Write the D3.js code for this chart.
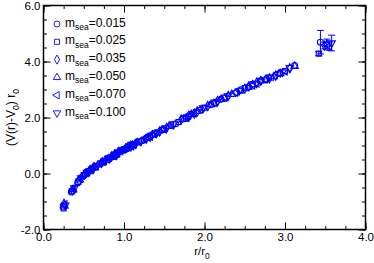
<!DOCTYPE html>
<html>
<head>
<meta charset="utf-8">
<script src="https://cdn.jsdelivr.net/npm/d3@7"></script>
<style>
  body { margin: 0; background: #fff; }
  svg { display: block; font-family: "Liberation Sans", Arial, Helvetica, sans-serif; }
</style>
</head>
<body>
<div class="main"></div>
<script>
// sea quark masses (legend)
let masses = ['0.015', '0.025', '0.035', '0.050', '0.070', '0.100']

// r/r0 and (V(r)-V0) r0 for each sea mass, e = error bar (0 = smaller than symbol)
let r015 = [0.245, 0.346, 0.424, 0.49, 0.548, 0.600, 0.693, 0.735, 0.813, 0.849, 0.883, 0.98, 1.01, 1.04, 1.096, 1.225, 1.273, 1.386, 1.47, 1.643, 1.732, 1.80, 1.96, 2.08, 2.205, 2.40, 2.45, 2.545, 2.695, 2.77, 2.94, 3.12, 3.44]
let v015 = [-1.20, -0.66, -0.33, -0.10, 0.07, 0.17, 0.33, 0.41, 0.52, 0.60, 0.68, 0.82, 0.85, 0.92, 1.01, 1.17, 1.26, 1.41, 1.55, 1.78, 1.95, 2.03, 2.28, 2.46, 2.65, 2.90, 2.99, 3.09, 3.31, 3.37, 3.58, 3.86, 4.69]
let e015 = [0, 0, 0, 0, 0, 0, 0, 0, 0, 0, 0, 0, 0, 0, 0, 0, 0, 0, 0, 0, 0, 0, 0, 0, 0, 0, 0, 0, 0, 0, 0, 0, 0.42]

let r025 = [0.25, 0.354, 0.433, 0.50, 0.559, 0.612, 0.707, 0.75, 0.829, 0.866, 0.901, 1.0, 1.031, 1.061, 1.118, 1.25, 1.299, 1.414, 1.50, 1.677, 1.768, 1.837, 2.0, 2.121, 2.25, 2.45, 2.5, 2.598, 2.75, 2.828, 3.0, 3.42]
let v025 = [-1.25, -0.63, -0.30, -0.06, 0.08, 0.20, 0.36, 0.43, 0.58, 0.64, 0.67, 0.87, 0.89, 0.95, 1.03, 1.21, 1.30, 1.47, 1.58, 1.84, 2.00, 2.12, 2.35, 2.53, 2.71, 2.96, 3.05, 3.19, 3.33, 3.42, 3.66, 4.28]
let e025 = [0, 0, 0, 0, 0, 0, 0, 0, 0, 0, 0, 0, 0, 0, 0, 0, 0, 0, 0, 0, 0, 0, 0, 0, 0, 0, 0, 0, 0, 0, 0, 0.07]

let r035 = [0.255, 0.361, 0.442, 0.51, 0.570, 0.625, 0.721, 0.765, 0.846, 0.883, 0.920, 1.02, 1.051, 1.082, 1.140, 1.275, 1.325, 1.443, 1.53, 1.711, 1.803, 1.874, 2.04, 2.163, 2.295, 2.50, 2.55, 2.65, 2.805, 2.885, 3.06, 3.49]
let v035 = [-1.08, -0.60, -0.26, -0.04, 0.09, 0.22, 0.38, 0.46, 0.61, 0.68, 0.71, 0.90, 0.96, 0.99, 1.06, 1.24, 1.31, 1.50, 1.63, 1.93, 2.06, 2.14, 2.41, 2.59, 2.77, 3.03, 3.11, 3.25, 3.40, 3.50, 3.76, 4.57]
let e035 = [0, 0, 0, 0, 0, 0, 0, 0, 0, 0, 0, 0, 0, 0, 0, 0, 0, 0, 0, 0, 0, 0, 0, 0, 0, 0, 0, 0, 0, 0, 0, 0.12]

let r050 = [0.26, 0.368, 0.450, 0.52, 0.581, 0.637, 0.735, 0.78, 0.862, 0.901, 0.938, 1.04, 1.072, 1.103, 1.163, 1.30, 1.351, 1.471, 1.56, 1.744, 1.838, 1.91, 2.08, 2.206, 2.34, 2.547, 2.60, 2.70, 2.86, 2.94, 3.12, 3.52]
let v050 = [-1.15, -0.57, -0.22, -0.01, 0.11, 0.23, 0.41, 0.49, 0.60, 0.70, 0.78, 0.92, 0.95, 1.01, 1.10, 1.29, 1.38, 1.55, 1.69, 1.94, 2.11, 2.23, 2.46, 2.65, 2.83, 3.09, 3.17, 3.32, 3.46, 3.57, 3.83, 4.62]
let e050 = [0, 0, 0, 0, 0, 0, 0, 0, 0, 0, 0, 0, 0, 0, 0, 0, 0, 0, 0, 0, 0, 0, 0, 0, 0, 0, 0, 0, 0, 0, 0, 0.18]

let r070 = [0.265, 0.375, 0.459, 0.53, 0.593, 0.649, 0.75, 0.795, 0.879, 0.918, 0.956, 1.06, 1.093, 1.124, 1.185, 1.325, 1.377, 1.50, 1.59, 1.778, 1.874, 1.947, 2.12, 2.25, 2.385, 2.597, 2.65, 2.753, 2.915, 3.0, 3.55]
let v070 = [-1.10, -0.55, -0.19, 0.02, 0.13, 0.25, 0.44, 0.51, 0.63, 0.72, 0.81, 0.94, 0.98, 1.04, 1.13, 1.32, 1.41, 1.59, 1.72, 2.00, 2.16, 2.29, 2.52, 2.71, 2.89, 3.15, 3.22, 3.37, 3.58, 3.65, 4.55]
let e070 = [0, 0, 0, 0, 0, 0, 0, 0, 0, 0, 0, 0, 0, 0, 0, 0, 0, 0, 0, 0, 0, 0, 0, 0, 0, 0, 0, 0, 0, 0, 0.15]

let r100 = [0.27, 0.382, 0.468, 0.54, 0.604, 0.661, 0.764, 0.81, 0.896, 0.935, 0.974, 1.08, 1.113, 1.146, 1.208, 1.35, 1.403, 1.527, 1.62, 1.811, 1.909, 1.984, 2.16, 2.29, 2.43, 2.646, 2.70, 2.805, 2.97, 3.06, 3.58]
let v100 = [-1.13, -0.52, -0.16, 0.04, 0.15, 0.27, 0.45, 0.54, 0.66, 0.75, 0.84, 0.97, 1.00, 1.06, 1.16, 1.36, 1.45, 1.63, 1.77, 2.05, 2.20, 2.34, 2.57, 2.77, 2.95, 3.22, 3.30, 3.44, 3.62, 3.78, 4.66]
let e100 = [0, 0, 0, 0, 0, 0, 0, 0, 0, 0, 0, 0, 0, 0, 0, 0, 0, 0, 0, 0, 0, 0, 0, 0, 0, 0, 0, 0, 0, 0, 0.28]

let xTicks = [0, 1, 2, 3, 4]
let yTicks = [-2, 0, 2, 4, 6]

let width = 374, height = 263
let plot = {left: 43.5, right: 365.5, top: 5.5, bottom: 229.5}
let blue = '#0000ff'

let svg = d3.select('.main').append('svg')
  .attr('width', width)
  .attr('height', height)

let xScale = d3.scaleLinear().domain([0, 4]).range([plot.left, plot.right])
let yScale = d3.scaleLinear().domain([-2, 6]).range([plot.bottom, plot.top])

let fmt = d => d.toFixed(1)

// symbols: circle, square, diamond, up, left, down triangles
let shapes = [
  {type: d3.symbolCircle, size: 28, rot: 0},
  {type: d3.symbolSquare, size: 26, rot: 0},
  {type: d3.symbolDiamond, size: 24, rot: 0},
  {type: d3.symbolTriangle, size: 24, rot: 0},
  {type: d3.symbolTriangle, size: 24, rot: -90},
  {type: d3.symbolTriangle, size: 24, rot: 180}
]

let series = [
  {r: r015, v: v015, e: e015},
  {r: r025, v: v025, e: e025},
  {r: r035, v: v035, e: e035},
  {r: r050, v: v050, e: e050},
  {r: r070, v: v070, e: e070},
  {r: r100, v: v100, e: e100}
]

// minor ticks (inward, all four sides)
let minorX = d3.range(0, 4.01, 0.25)
let minorY = d3.range(-2, 6.01, 0.5)
let axes = svg.append('g').attr('class', 'axes')

axes.append('g').attr('transform', `translate(0, ${plot.bottom})`)
  .call(d3.axisBottom(xScale).tickValues(minorX).tickSize(-3.5).tickFormat(''))
axes.append('g').attr('transform', `translate(0, ${plot.top})`)
  .call(d3.axisTop(xScale).tickValues(minorX).tickSize(-3.5).tickFormat(''))
axes.append('g').attr('transform', `translate(${plot.left}, 0)`)
  .call(d3.axisLeft(yScale).tickValues(minorY).tickSize(-3.5).tickFormat(''))
axes.append('g').attr('transform', `translate(${plot.right}, 0)`)
  .call(d3.axisRight(yScale).tickValues(minorY).tickSize(-3.5).tickFormat(''))

// major ticks with labels
axes.append('g').attr('class', 'xaxis').attr('transform', `translate(0, ${plot.bottom})`)
  .call(d3.axisBottom(xScale).tickValues(xTicks).tickSize(-7).tickPadding(3).tickFormat(fmt))
axes.append('g').attr('transform', `translate(0, ${plot.top})`)
  .call(d3.axisTop(xScale).tickValues(xTicks).tickSize(-7).tickFormat(''))
axes.append('g').attr('class', 'yaxis').attr('transform', `translate(${plot.left}, 0)`)
  .call(d3.axisLeft(yScale).tickValues(yTicks).tickSize(-7).tickPadding(3).tickFormat(fmt))
axes.append('g').attr('transform', `translate(${plot.right}, 0)`)
  .call(d3.axisRight(yScale).tickValues(yTicks).tickSize(-7).tickFormat(''))

axes.selectAll('.domain').remove()
axes.selectAll('.tick line').attr('stroke', '#000').attr('stroke-width', 1)
axes.selectAll('text').attr('font-size', 11.5).attr('fill', '#000')
  .style('font-family', '"Liberation Sans", Arial, sans-serif')

// frame
svg.append('rect')
  .attr('x', plot.left).attr('y', plot.top)
  .attr('width', plot.right - plot.left).attr('height', plot.bottom - plot.top)
  .attr('fill', 'none').attr('stroke', '#000').attr('stroke-width', 1.5)

// data
let marks = svg.append('g')
series.forEach((s, k) => {
  let pts = s.r.map((r, i) => ({r: r, v: s.v[i], e: s.e[i]}))
  let sym = d3.symbol().type(shapes[k].type).size(shapes[k].size)

  let bars = marks.append('g').selectAll('g').data(pts.filter(d => d.e > 0)).enter().append('g')
    .attr('stroke', blue).attr('stroke-width', 1)
  bars.append('line')
    .attr('x1', d => xScale(d.r)).attr('x2', d => xScale(d.r))
    .attr('y1', d => yScale(d.v - d.e)).attr('y2', d => yScale(d.v + d.e))
  bars.append('line')
    .attr('x1', d => xScale(d.r) - 3.5).attr('x2', d => xScale(d.r) + 3.5)
    .attr('y1', d => yScale(d.v + d.e)).attr('y2', d => yScale(d.v + d.e))
  bars.append('line')
    .attr('x1', d => xScale(d.r) - 3.5).attr('x2', d => xScale(d.r) + 3.5)
    .attr('y1', d => yScale(d.v - d.e)).attr('y2', d => yScale(d.v - d.e))

  marks.append('g').selectAll('path').data(pts).enter().append('path')
    .attr('d', sym)
    .attr('transform', d => `translate(${xScale(d.r)}, ${yScale(d.v)}) rotate(${shapes[k].rot})`)
    .attr('fill', 'none')
    .attr('stroke', blue)
    .attr('stroke-width', 1.1)
})

// legend
let legend = svg.append('g')
masses.forEach((m, k) => {
  let y = 24 + k * 17.8
  legend.append('path')
    .attr('d', d3.symbol().type(shapes[k].type).size(shapes[k].size))
    .attr('transform', `translate(57, ${y}) rotate(${shapes[k].rot})`)
    .attr('fill', 'none').attr('stroke', blue).attr('stroke-width', 0.9)
  let t = legend.append('text')
    .attr('x', 65).attr('y', y + 2.5)
    .attr('font-size', 12).attr('fill', '#000')
  t.append('tspan').text('m')
  t.append('tspan').attr('font-size', 8.5).attr('dy', 3.5).text('sea')
  t.append('tspan').attr('dy', -3.5).text('=' + m)
})

// axis titles
let xt = svg.append('text')
  .attr('x', 202).attr('y', 255)
  .attr('font-size', 11.5).attr('text-anchor', 'middle')
xt.append('tspan').text('r/r')
xt.append('tspan').attr('font-size', 8.5).attr('dy', 4).text('0')

let yt = svg.append('text')
  .attr('transform', `translate(15, ${(plot.top + plot.bottom) / 2}) rotate(-90)`)
  .attr('font-size', 12).attr('text-anchor', 'middle')
yt.append('tspan').text('(V(r)-V')
yt.append('tspan').attr('font-size', 8.5).attr('dy', 4).text('0')
yt.append('tspan').attr('dy', -4).text(') r')
yt.append('tspan').attr('font-size', 8.5).attr('dy', 4).text('0')
</script>
</body>
</html>
